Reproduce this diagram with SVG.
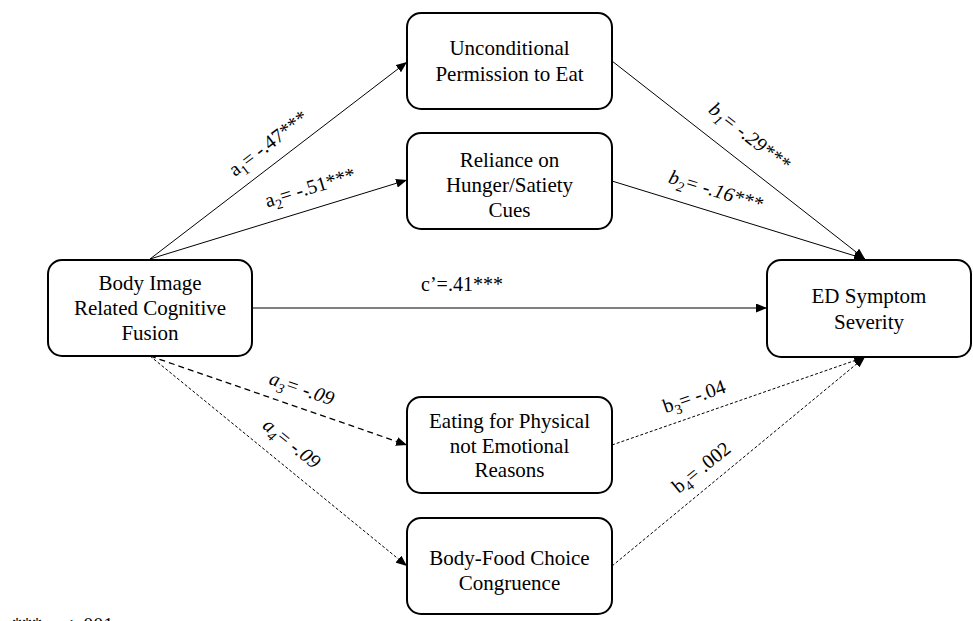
<svg xmlns="http://www.w3.org/2000/svg" width="973" height="621" viewBox="0 0 973 621">
<style>
text{font-family:'Liberation Serif','Times New Roman','Tinos','Nimbus Roman','Noto Serif','DejaVu Serif',serif;fill:#000}
.box{fill:#fff;stroke:#000;stroke-width:2}
.nt{font-size:21px;text-anchor:middle}
.lb{font-size:20px;text-anchor:middle}
.it{font-style:italic}
.ln{fill:none;stroke:#000;stroke-width:1}
.dash{stroke-dasharray:6,4;stroke-width:1.3}
.dot{stroke-dasharray:3,2}
</style>
<defs>
<marker id="ah" markerWidth="11" markerHeight="9" refX="11" refY="4.5" orient="auto" markerUnits="userSpaceOnUse">
<path d="M0,0 L11,4.5 L0,9 z" fill="#000"/>
</marker>
</defs>
<rect width="973" height="621" fill="#fff"/>
<g id="connectors">
<line class="ln" x1="150" y1="259" x2="407" y2="62" marker-end="url(#ah)"/>
<line class="ln" x1="150" y1="259" x2="407" y2="180" marker-end="url(#ah)"/>
<line class="ln" x1="252" y1="308" x2="767" y2="308" marker-end="url(#ah)"/>
<line class="ln" x1="612" y1="61" x2="865" y2="259" marker-end="url(#ah)"/>
<line class="ln" x1="612" y1="181" x2="865" y2="259" marker-end="url(#ah)"/>
<line class="ln dash" x1="150" y1="356" x2="407" y2="445" marker-end="url(#ah)"/>
<line class="ln dot" x1="150" y1="356" x2="407" y2="566" marker-end="url(#ah)"/>
<line class="ln dot" x1="612" y1="445" x2="865" y2="357" marker-end="url(#ah)"/>
<line class="ln dot" x1="612" y1="566" x2="865" y2="357" marker-end="url(#ah)"/>
</g>
<g id="labels">
<text class="lb" transform="translate(268,143) rotate(-37.5)" y="7">a<tspan dy="5" font-size="14">1</tspan><tspan dy="-5">= -.47***</tspan></text>
<text class="lb" transform="translate(310,187) rotate(-17)" y="7">a<tspan dy="5" font-size="14">2</tspan><tspan dy="-5">= -.51***</tspan></text>
<text class="lb it" transform="translate(750,136) rotate(38)" y="7">b<tspan dy="5" font-size="14">1</tspan><tspan dy="-5">= -.29***</tspan></text>
<text class="lb it" transform="translate(716,190) rotate(17)" y="7">b<tspan dy="5" font-size="14">2</tspan><tspan dy="-5">= -.16***</tspan></text>
<text class="lb" x="462" y="291">c’=.41***</text>
<text class="lb it" transform="translate(302,388) rotate(19)" y="7">a<tspan dy="5" font-size="14">3</tspan><tspan dy="-5">= -.09</tspan></text>
<text class="lb it" transform="translate(292,443) rotate(39)" y="7">a<tspan dy="5" font-size="14">4</tspan><tspan dy="-5">= -.09</tspan></text>
<text class="lb" transform="translate(694,396) rotate(-19)" y="7">b<tspan dy="5" font-size="14">3</tspan><tspan dy="-5">= -.04</tspan></text>
<text class="lb" transform="translate(701,467) rotate(-39)" y="7">b<tspan dy="5" font-size="14">4</tspan><tspan dy="-5">= .002</tspan></text>
<text class="lb" x="12" y="632" style="text-anchor:start">*** p &lt; .001</text>
</g>
<g id="node-fusion">
<rect class="box" x="48" y="260" width="204" height="96" rx="14"/>
<text class="nt" x="150" y="290">Body Image</text>
<text class="nt" x="150" y="315">Related Cognitive</text>
<text class="nt" x="150" y="340">Fusion</text>
</g>
<g id="node-permission">
<rect class="box" x="407" y="13" width="205" height="96" rx="14"/>
<text class="nt" x="509.5" y="55">Unconditional</text>
<text class="nt" x="509.5" y="81">Permission to Eat</text>
</g>
<g id="node-reliance">
<rect class="box" x="407" y="133" width="205" height="96" rx="14"/>
<text class="nt" x="509.5" y="167">Reliance on</text>
<text class="nt" x="509.5" y="192">Hunger/Satiety</text>
<text class="nt" x="509.5" y="217">Cues</text>
</g>
<g id="node-eating">
<rect class="box" x="407" y="397" width="205" height="96" rx="14"/>
<text class="nt" x="509.5" y="428">Eating for Physical</text>
<text class="nt" x="509.5" y="453">not Emotional</text>
<text class="nt" x="509.5" y="477">Reasons</text>
</g>
<g id="node-congruence">
<rect class="box" x="407" y="518" width="205" height="96" rx="14"/>
<text class="nt" x="509.5" y="565">Body-Food Choice</text>
<text class="nt" x="509.5" y="590">Congruence</text>
</g>
<g id="node-ed">
<rect class="box" x="767" y="260" width="204" height="97" rx="14"/>
<text class="nt" x="869" y="303">ED Symptom</text>
<text class="nt" x="869" y="329">Severity</text>
</g>
</svg>
